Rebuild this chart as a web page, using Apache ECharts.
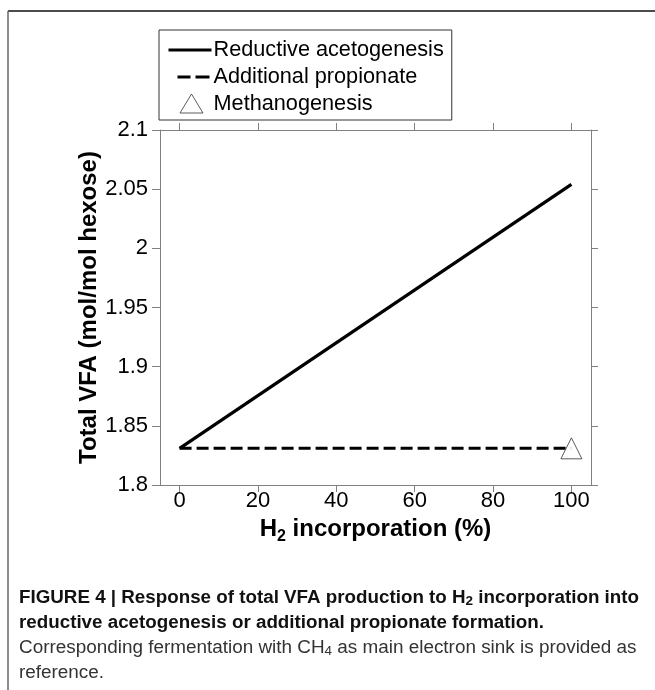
<!DOCTYPE html>
<html>
<head>
<meta charset="utf-8">
<script src="https://cdn.jsdelivr.net/npm/echarts@6/dist/echarts.min.js"></script>
<style>
html,body{margin:0;padding:0;background:#fff;}
#c{width:655px;height:690px;}
</style>
</head>
<body>
<div id="c"></div>
<script>
// ---- data ----
const xValues = [0, 100];
const reductiveAcetogenesis = [1.831, 2.054];
const additionalPropionate = [1.831, 1.831];
const methanogenesis = [[100, 1.831]];
const xTickValues = [0, 20, 40, 60, 80, 100];
const seriesNames = ['Reductive acetogenesis', 'Additional propionate', 'Methanogenesis'];

const chart = echarts.init(document.getElementById('c'), null, {renderer: 'canvas'});
const FONT = "'Liberation Sans', Arial, sans-serif";
const axisColor = '#808080';

const pairs = (xs, ys) => xs.map((x, i) => [x, ys[i]]);
const hiddenDot = {color: 'rgba(0,0,0,0)', borderWidth: 0, opacity: 0};

const option = {
  animation: false,
  backgroundColor: '#fff',
  textStyle: {fontFamily: FONT},
  grid: {left: 160, right: 64, top: 130, bottom: 205, containLabel: false},
  legend: {
    left: 159, top: 30,
    orient: 'vertical',
    data: [
      {name: seriesNames[0], itemStyle: hiddenDot},
      {name: seriesNames[1], itemStyle: hiddenDot, lineStyle: {type: [0, 9, 13, 5, 14, 20]}},
      {name: seriesNames[2], icon: 'path://M0,0 M43,20 M23,0 L34.5,19 L11.5,19 Z',
       itemStyle: {color: '#fff', borderColor: '#333', borderWidth: 1}}
    ],
    itemWidth: 43, itemHeight: 20, itemGap: 5,
    padding: [9, 8, 5, 8],
    borderColor: '#333', borderWidth: 1,
    textStyle: {fontSize: 21.7, color: '#000', fontFamily: FONT, padding: [0, 0, 0, -3]},
    lineStyle: {width: 3}
  },
  xAxis: [{
    type: 'value', position: 'bottom', min: -5, max: 105,
    axisLine: {show: true, onZero: false, lineStyle: {color: axisColor, width: 1}},
    axisTick: {show: true, inside: false, length: 7, customValues: xTickValues, lineStyle: {color: axisColor}},
    axisLabel: {show: true, customValues: xTickValues, fontSize: 22, color: '#000', margin: 5, fontFamily: FONT},
    splitLine: {show: false},
    name: '{a|H}{s|2}{a| incorporation (%)}',
    nameLocation: 'middle', nameGap: 28,
    nameTextStyle: {
      rich: {
        a: {fontSize: 24, fontWeight: 'bold', color: '#000', fontFamily: FONT, lineHeight: 26, verticalAlign: 'top'},
        s: {fontSize: 16, fontWeight: 'bold', color: '#000', fontFamily: FONT, lineHeight: 26, verticalAlign: 'top', padding: [12, 0, 0, 0]}
      }
    }
  }, {
    type: 'value', position: 'top', min: -5, max: 105,
    axisLine: {show: true, onZero: false, lineStyle: {color: axisColor, width: 1}},
    axisTick: {show: true, inside: false, length: 7, customValues: xTickValues, lineStyle: {color: axisColor}},
    axisLabel: {show: false},
    splitLine: {show: false}
  }],
  yAxis: [{
    type: 'value', position: 'left', min: 1.8, max: 2.1, interval: 0.05,
    axisLine: {show: true, onZero: false, lineStyle: {color: axisColor, width: 1}},
    axisTick: {show: true, inside: false, length: 8, lineStyle: {color: axisColor}},
    axisLabel: {fontSize: 22, color: '#000', margin: 12, fontFamily: FONT},
    splitLine: {show: false},
    name: 'Total VFA (mol/mol hexose)',
    nameLocation: 'middle', nameGap: 59, nameMoveOverlap: false,
    nameTextStyle: {fontSize: 24, fontWeight: 'bold', color: '#000', fontFamily: FONT}
  }, {
    type: 'value', position: 'right', min: 1.8, max: 2.1, interval: 0.05,
    axisLine: {show: true, onZero: false, lineStyle: {color: axisColor, width: 1}},
    axisTick: {show: true, inside: false, length: 7, lineStyle: {color: axisColor}},
    axisLabel: {show: false},
    splitLine: {show: false}
  }],
  series: [{
    name: seriesNames[0], type: 'line', xAxisIndex: 0, yAxisIndex: 0,
    data: pairs(xValues, reductiveAcetogenesis),
    symbol: 'none', lineStyle: {color: '#000', width: 3.2, type: 'solid'},
    itemStyle: {color: '#000'}
  }, {
    name: seriesNames[1], type: 'line', xAxisIndex: 0, yAxisIndex: 0,
    data: pairs(xValues, additionalPropionate),
    symbol: 'none', lineStyle: {color: '#000', width: 3, type: [12, 5]},
    itemStyle: {color: '#000'}
  }, {
    name: seriesNames[2], type: 'scatter', xAxisIndex: 0, yAxisIndex: 0,
    data: methanogenesis,
    symbol: 'triangle', symbolSize: 21, symbolKeepAspect: true,
    itemStyle: {color: '#fff', borderColor: '#333', borderWidth: 1},
    z: 5
  }],
  graphic: [
    {type: 'line', shape: {x1: 8, y1: 11, x2: 655, y2: 11}, style: {stroke: '#111', lineWidth: 1.5}},
    {type: 'line', shape: {x1: 8, y1: 11, x2: 8, y2: 690}, style: {stroke: '#666', lineWidth: 1.5}},
    {type: 'text', left: 19, top: 588, style: {
      text: '{b|FIGURE 4 | Response of total VFA production to H}{bs|2}{b| incorporation into}',
      rich: {
        b: {fontFamily: FONT, fontWeight: 'bold', fontSize: 18.8, fill: '#111', lineHeight: 21, verticalAlign: 'top'},
        bs: {fontFamily: FONT, fontWeight: 'bold', fontSize: 13.5, fill: '#111', lineHeight: 21, verticalAlign: 'top', padding: [6, 0, 0, 0]}
      }}},
    {type: 'text', left: 19, top: 613, style: {
      text: 'reductive acetogenesis or additional propionate formation.',
      fontFamily: FONT, fontWeight: 'bold', fontSize: 18.8, fill: '#111'}},
    {type: 'text', left: 19, top: 638, style: {
      text: '{r|Corresponding fermentation with CH}{rs|4}{r| as main electron sink is provided as}',
      rich: {
        r: {fontFamily: FONT, fontSize: 18.9, fill: '#333', lineHeight: 21, verticalAlign: 'top'},
        rs: {fontFamily: FONT, fontSize: 13.5, fill: '#333', lineHeight: 21, verticalAlign: 'top', padding: [6, 0, 0, 0]}
      }}},
    {type: 'text', left: 19, top: 663, style: {
      text: 'reference.', fontFamily: FONT, fontSize: 18.9, fill: '#333'}}
  ]
};
chart.setOption(option);
</script>
</body>
</html>
